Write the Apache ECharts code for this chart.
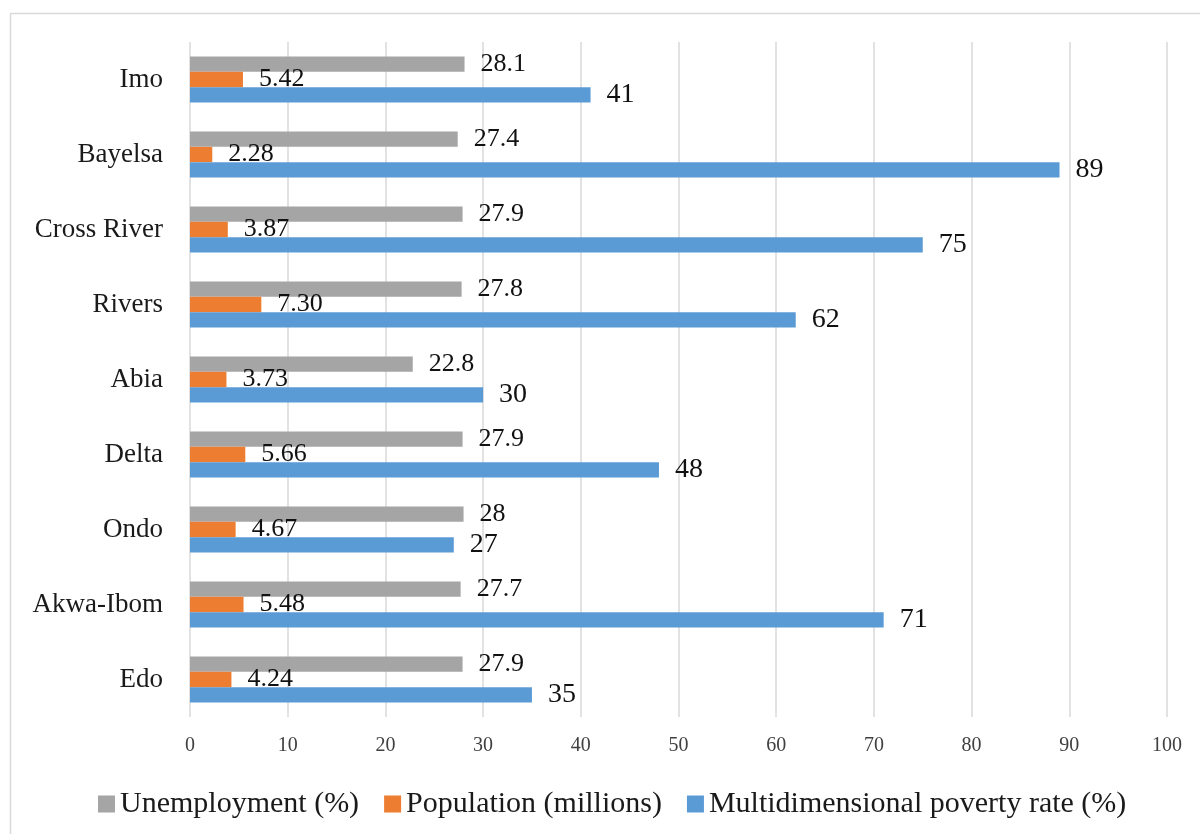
<!DOCTYPE html>
<html><head><meta charset="utf-8">
<script src="https://cdn.jsdelivr.net/npm/echarts@6/dist/echarts.min.js"></script>
<style>html,body{margin:0;padding:0;background:#fff}#c{width:1200px;height:834px}</style>
</head><body><div id="c"></div>
<script>
const categories = ['Imo','Bayelsa','Cross River','Rivers','Abia','Delta','Ondo','Akwa-Ibom','Edo'];
const unemployment = [28.1, 27.4, 27.9, 27.8, 22.8, 27.9, 28, 27.7, 27.9];
const population = ['5.42','2.28','3.87','7.30','3.73','5.66','4.67','5.48','4.24'];
const poverty = [41, 89, 75, 62, 30, 48, 27, 71, 35];
const xTicks = [0,10,20,30,40,50,60,70,80,90,100];
const seriesNames = ['Unemployment (%)','Population (millions)','Multidimensional poverty rate (%)'];

const FONT = '"Liberation Serif", "DejaVu Serif", serif';
const chart = echarts.init(document.getElementById('c'));
function lab(size){
  return {show:true, position:'right', distance:16, color:'#111', fontFamily:FONT, fontSize:size};
}
chart.setOption({
  animation:false,
  textStyle:{fontFamily:FONT},
  graphic:[{type:'rect', shape:{x:10.5,y:13.5,width:1200,height:840}, style:{fill:'none', stroke:'#d9d9d9', lineWidth:1.5}, silent:true}],
  grid:{left:190, right:33, top:42, bottom:117},
  legend:{
    data:seriesNames, bottom:10, left:93, itemWidth:17, itemHeight:17, itemGap:25,
    icon:'rect',
    textStyle:{fontFamily:FONT, fontSize:30, color:'#1a1a1a', padding:[0,0,0,0]}
  },
  xAxis:{
    type:'value', min:0, max:100, interval:10,
    axisLine:{show:false}, axisTick:{show:false},
    splitLine:{show:true, lineStyle:{color:'#d9d9d9', width:1.5}},
    axisLabel:{fontFamily:FONT, fontSize:20, color:'#404040', margin:19,
      formatter:function(v){return xTicks.indexOf(v)>=0 ? String(v) : '';}}
  },
  yAxis:{
    type:'category', data:categories, inverse:true,
    axisLine:{show:false}, axisTick:{show:false},
    axisLabel:{fontFamily:FONT, fontSize:27, color:'#1a1a1a', margin:27}
  },
  series:[
    {name:seriesNames[0], type:'bar', data:unemployment, barWidth:15.3, barGap:'0%',
     itemStyle:{color:'#a5a5a5'}, label:lab(26)},
    {name:seriesNames[1], type:'bar', data:population.map(Number), barWidth:15.3, barGap:'0%',
     itemStyle:{color:'#ed7d31'}, label:Object.assign(lab(26), {formatter:function(p){return population[p.dataIndex];}})},
    {name:seriesNames[2], type:'bar', data:poverty, barWidth:15.3, barGap:'0%',
     itemStyle:{color:'#5b9bd5'}, label:lab(28)}
  ]
});
</script></body></html>
